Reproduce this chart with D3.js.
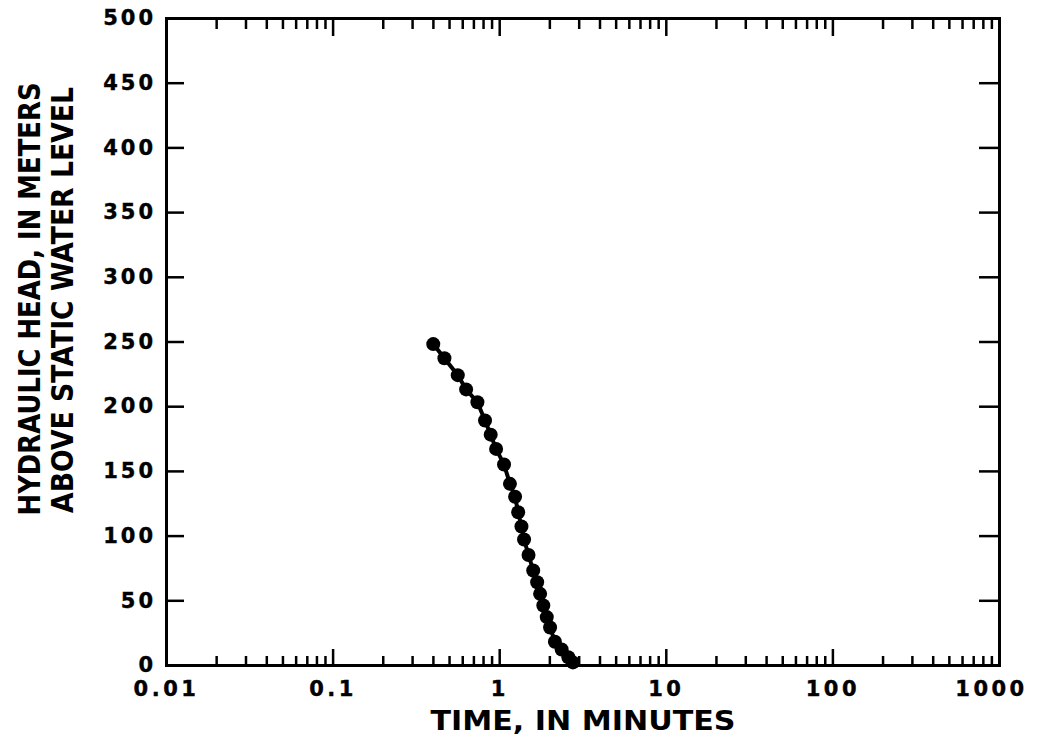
<!DOCTYPE html>
<html>
<head>
<meta charset="utf-8">
<script src="https://cdn.jsdelivr.net/npm/d3@7"></script>
<style>
  body { margin: 0; background: #fff; }
  text { font-family: "DejaVu Sans", "Liberation Sans", sans-serif; font-weight: bold; fill: #000; }
</style>
</head>
<body>
<div id="chart"></div>
<script>
const width = 1039;
const height = 741;

// data
const timeMinutes = [0.402, 0.469, 0.564, 0.633, 0.740, 0.822, 0.889, 0.958, 1.069, 1.16,
    1.245, 1.30, 1.36, 1.41, 1.50, 1.60, 1.69, 1.76, 1.84, 1.93, 2.02, 2.16, 2.37, 2.60, 2.77];
const headMeters = [248, 237, 224, 213, 203, 189, 178, 167, 155, 140,
    130, 118, 107, 97, 85, 73, 64, 55, 46, 37, 29, 18, 12, 6, 2];
const xTicks = [0.01, 0.1, 1, 10, 100, 1000];
const xTickLabels = ["0.01", "0.1", "1", "10", "100", "1000"];
const yTicks = [0, 50, 100, 150, 200, 250, 300, 350, 400, 450, 500];

const margin = { top: 18, right: 40, bottom: 76, left: 166 };

const x = d3.scaleLog().domain([0.01, 1000]).range([margin.left, width - margin.right]);
const y = d3.scaleLinear().domain([0, 500]).range([height - margin.bottom, margin.top]);

const svg = d3.select("#chart")
    .append("svg")
    .attr("width", width)
    .attr("height", height);

// minor ticks for log axis
const minorTicks = [];
for (let e = -2; e < 3; e++) {
    for (let m = 2; m <= 9; m++) minorTicks.push(m * Math.pow(10, e));
}

const x0 = x.range()[0], x1 = x.range()[1];
const y0 = y.range()[0], y1 = y.range()[1];

// bottom axis (ticks inward)
const bottomAxis = svg.append("g").attr("transform", `translate(0,${y0})`)
    .call(d3.axisBottom(x).tickValues(xTicks).tickSize(-16).tickFormat((d, i) => xTickLabels[i]).tickPadding(16));
svg.append("g").attr("transform", `translate(0,${y0})`)
    .call(d3.axisBottom(x).tickValues(minorTicks).tickSize(-9).tickFormat(""));

// top axis
svg.append("g").attr("transform", `translate(0,${y1})`)
    .call(d3.axisTop(x).tickValues(xTicks).tickSize(-18).tickFormat(""));
svg.append("g").attr("transform", `translate(0,${y1})`)
    .call(d3.axisTop(x).tickValues(minorTicks).tickSize(-11).tickFormat(""));

// left and right axes
const leftAxis = svg.append("g").attr("transform", `translate(${x0},0)`)
    .call(d3.axisLeft(y).tickValues(yTicks).tickSize(-18).tickPadding(10));
svg.append("g").attr("transform", `translate(${x1},0)`)
    .call(d3.axisRight(y).tickValues(yTicks).tickSize(-20).tickFormat(""));

svg.selectAll(".domain").attr("stroke", "#000").attr("stroke-width", 3);
svg.selectAll(".tick line").attr("stroke", "#000").attr("stroke-width", 2.5);

bottomAxis.selectAll(".tick text")
    .style("font-size", "21px")
    .attr("letter-spacing", "3.5px")
    .attr("fill", "#000")
    .attr("stroke", "#000")
    .attr("stroke-width", 0.4)
    .attr("dx", (d, i) => i === xTicks.length - 1 ? -8 : 0);
leftAxis.selectAll(".tick text")
    .style("font-size", "21px")
    .attr("letter-spacing", "3px")
    .attr("fill", "#000")
    .attr("stroke", "#000")
    .attr("stroke-width", 0.4);

// data line and points
const line = d3.line()
    .x((d, i) => x(timeMinutes[i]))
    .y(d => y(d));

svg.append("path")
    .datum(headMeters)
    .attr("fill", "none")
    .attr("stroke", "#000")
    .attr("stroke-width", 4)
    .attr("d", line);

svg.append("g")
    .selectAll("circle")
    .data(headMeters)
    .enter().append("circle")
    .attr("cx", (d, i) => x(timeMinutes[i]))
    .attr("cy", d => y(d))
    .attr("r", 7)
    .attr("fill", "#000");

// axis titles
svg.append("text")
    .attr("x", 583)
    .attr("y", 730)
    .attr("text-anchor", "middle")
    .attr("textLength", 305)
    .attr("lengthAdjust", "spacingAndGlyphs")
    .style("font-size", "26px")
    .text("TIME, IN MINUTES");

svg.append("text")
    .attr("transform", "translate(40,299) rotate(-90)")
    .attr("text-anchor", "middle")
    .attr("textLength", 433)
    .attr("lengthAdjust", "spacingAndGlyphs")
    .style("font-size", "30px")
    .text("HYDRAULIC HEAD, IN METERS");

svg.append("text")
    .attr("transform", "translate(73,300) rotate(-90)")
    .attr("text-anchor", "middle")
    .attr("textLength", 426)
    .attr("lengthAdjust", "spacingAndGlyphs")
    .style("font-size", "30px")
    .text("ABOVE STATIC WATER LEVEL");
</script>
</body>
</html>
